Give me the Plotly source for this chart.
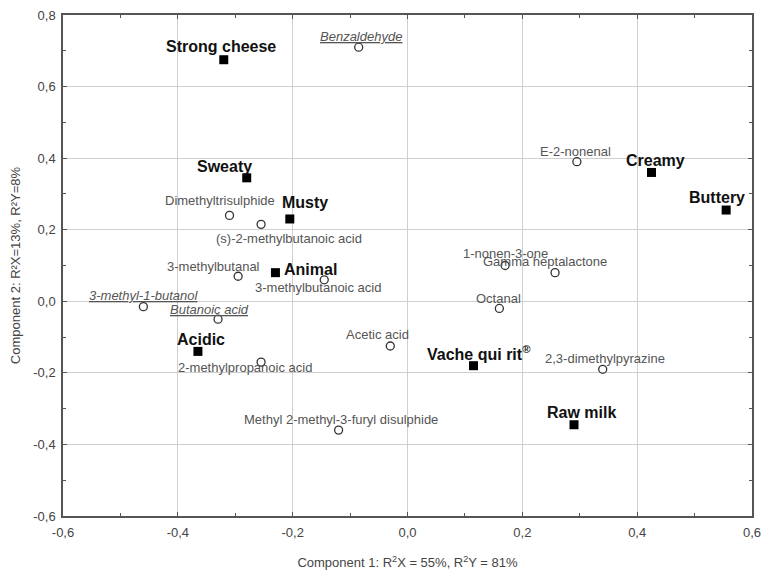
import plotly.graph_objects as go

# sensory attributes (filled squares)
attr_names = ["Strong cheese", "Sweaty", "Musty", "Animal", "Acidic",
              "Vache qui rit<sup>®</sup>", "Raw milk", "Creamy", "Buttery"]
attr_x = [-0.32, -0.28, -0.205, -0.23, -0.365, 0.115, 0.29, 0.425, 0.555]
attr_y = [0.675, 0.345, 0.23, 0.08, -0.14, -0.18, -0.345, 0.36, 0.255]

# volatile compounds (open circles)
comp_names = ["<u><i>Benzaldehyde</i></u>", "Dimethyltrisulphide", "(s)-2-methylbutanoic acid",
              "3-methylbutanal", "3-methylbutanoic acid", "<u><i>3-methyl-1-butanol</i></u>",
              "<u><i>Butanoic acid</i></u>", "2-methylpropanoic acid", "Acetic acid",
              "Methyl 2-methyl-3-furyl disulphide", "Octanal", "2,3-dimethylpyrazine",
              "E-2-nonenal", "1-nonen-3-one", "Gamma heptalactone"]
comp_x = [-0.085, -0.31, -0.255, -0.295, -0.145, -0.46, -0.33, -0.255, -0.03,
          -0.12, 0.16, 0.34, 0.295, 0.17, 0.257]
comp_y = [0.71, 0.24, 0.215, 0.07, 0.06, -0.015, -0.05, -0.17, -0.125,
          -0.36, -0.02, -0.19, 0.39, 0.10, 0.08]

tick_vals = [-0.6, -0.4, -0.2, 0.0, 0.2, 0.4, 0.6, 0.8]
tick_text = ["-0,6", "-0,4", "-0,2", "0,0", "0,2", "0,4", "0,6", "0,8"]

# label offsets in pixels (dx, dy) and anchor, screen y grows down
attr_offsets = [(-3, -13, "center"), (-22, -11, "center"), (15, -16, "center"),
                (7, -3, "left"), (3, -12, "center"), (5, -13, "center"),
                (7, -12, "center"), (4, -12, "center"), (-9, -13, "center")]
comp_offsets = [(2, -11), (-10, -15), (28, 14), (-25, -10), (-6, 8), (0, -11),
                (-9, -10), (-16, 5), (-13, -12), (2, -11), (-1, -10), (2, -11),
                (-1, -10), (0, -12), (-10, -11)]

FONT = "Liberation Sans, Arial, sans-serif"

fig = go.Figure()

fig.add_trace(go.Scatter(
    x=comp_x, y=comp_y, mode="markers",
    marker=dict(symbol="circle-open", size=8, color="#333333", line=dict(width=1.3)),
    showlegend=False, hoverinfo="skip"))

fig.add_trace(go.Scatter(
    x=attr_x, y=attr_y, mode="markers",
    marker=dict(symbol="square", size=9, color="black"),
    showlegend=False, hoverinfo="skip"))

for name, x, y, (dx, dy, anchor) in zip(attr_names, attr_x, attr_y, attr_offsets):
    fig.add_annotation(x=x, y=y, text="<b>" + name + "</b>", showarrow=False,
                       xshift=dx, yshift=-dy, xanchor=anchor, yanchor="middle",
                       font=dict(family=FONT, size=16, color="#111111"))

for name, x, y, (dx, dy) in zip(comp_names, comp_x, comp_y, comp_offsets):
    fig.add_annotation(x=x, y=y, text=name, showarrow=False,
                       xshift=dx, yshift=-dy, xanchor="center", yanchor="middle",
                       font=dict(family=FONT, size=13, color="#555555"))

axis_common = dict(
    automargin=False, ticklabeloverflow="allow",
    showgrid=True, gridcolor="#cfcfcf", gridwidth=1.3,
    zeroline=False, showline=True, linecolor="#555555", linewidth=1.5,
    mirror="ticks", ticks="inside", ticklen=4, tickcolor="#555555",
    tickvals=tick_vals, ticktext=tick_text,
    minor=dict(dtick=0.1, ticks="inside", ticklen=3, tickcolor="#555555", showgrid=False),
    tickfont=dict(family=FONT, size=13, color="#444444"),
)

fig.update_xaxes(range=[-0.6, 0.6], **axis_common, ticklabelstandoff=4,
                 title=dict(text="Component 1: R<sup>2</sup>X = 55%, R<sup>2</sup>Y = 81%",
                            font=dict(family=FONT, size=13, color="#444444"), standoff=19))
fig.update_yaxes(range=[-0.6, 0.8], **axis_common, ticklabelstandoff=3,
                 title=dict(text="Component 2: R²X=13%, R²Y=8%",
                            font=dict(family=FONT, size=13, color="#444444"), standoff=14))

# the page body has an 8px margin, so the figure is shrunk to keep the plot box in place
fig.update_layout(
    width=761, height=566,
    margin=dict(l=55, r=17, t=7, b=58),
    plot_bgcolor="white", paper_bgcolor="white",
)

fig.write_html("out.html")
